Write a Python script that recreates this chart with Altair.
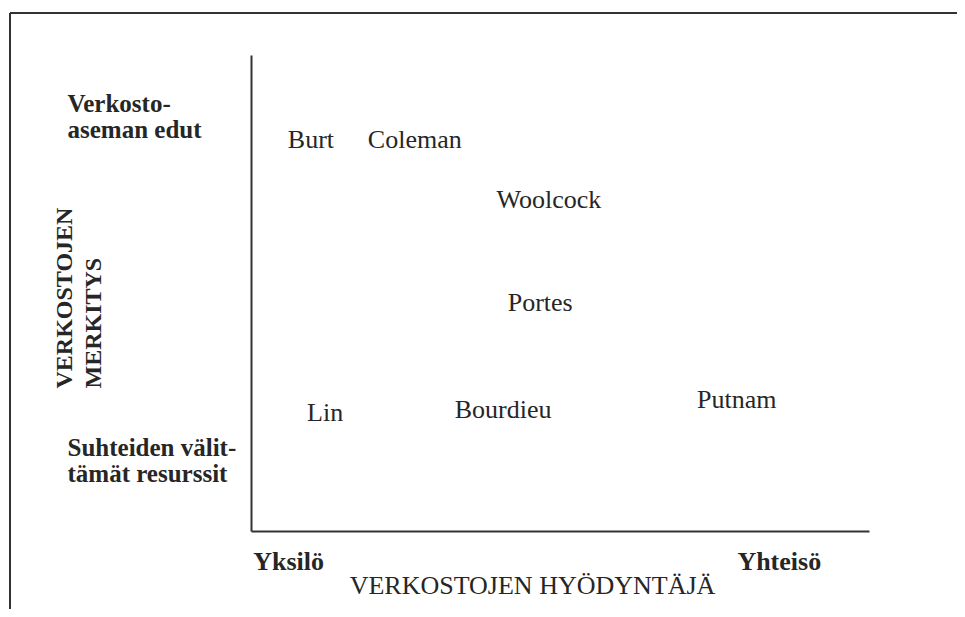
import json
import altair as alt
import pandas as pd

# ---- data ----
names = ["Burt", "Coleman", "Woolcock", "Portes", "Lin", "Bourdieu", "Putnam"]
x_vals = [9.7, 26.5, 48.2, 46.8, 12.0, 40.8, 78.6]
y_vals = [82.1, 82.1, 69.5, 47.9, 24.8, 25.4, 27.5]

y_tick_values = [17.6, 89.9]
y_tick_labels = [["Suhteiden välit-", "tämät resurssit"], ["Verkosto-", "aseman edut"]]
x_tick_values = [6.0, 85.4]
x_tick_labels = ["Yksilö", "Yhteisö"]
x_title = "VERKOSTOJEN HYÖDYNTÄJÄ"
y_title = ["VERKOSTOJEN", "MERKITYS"]

FONT = "Liberation Serif"
INK = "#262626"
LINE = "#333333"

df = pd.DataFrame({"name": names, "x": x_vals, "y": y_vals})

y_expr = "datum.value < 50 ? %s : %s" % (
    json.dumps(y_tick_labels[0], ensure_ascii=False),
    json.dumps(y_tick_labels[1], ensure_ascii=False),
)
x_expr = "datum.value < 50 ? %s : %s" % (
    json.dumps(x_tick_labels[0], ensure_ascii=False),
    json.dumps(x_tick_labels[1], ensure_ascii=False),
)

x_axis = alt.Axis(
    values=x_tick_values, labelExpr=x_expr, title=x_title,
    grid=False, ticks=False, tickSize=0, domain=True, domainColor=LINE, domainWidth=2,
    labelFont=FONT, labelFontSize=26, labelFontWeight="bold", labelColor=INK,
    labelPadding=38, labelBaseline="alphabetic", labelAlign="center",
    labelFlush=False, labelOverlap=False,
    titleFont=FONT, titleFontSize=26, titleFontWeight="normal", titleColor=INK,
    titleX=281, titleY=62, titleAlign="center", titleBaseline="alphabetic",
)
y_axis = alt.Axis(
    values=y_tick_values, labelExpr=y_expr, title=y_title,
    grid=False, ticks=False, tickSize=0, domain=True, domainColor=LINE, domainWidth=2,
    labelFont=FONT, labelFontSize=25, labelFontWeight="bold", labelColor=INK,
    labelPadding=184, labelBaseline="middle", labelAlign="left", labelLineHeight=26,
    labelFlush=False, labelOverlap=False,
    titleFont=FONT, titleFontSize=24, titleFontWeight="bold", titleColor=INK,
    titleAngle=270, titleAlign="left", titleBaseline="alphabetic", titleLineHeight=29,
    titleX=-180, titleY=333,
)

text = alt.Chart(df).mark_text(
    font=FONT, fontSize=26, color=INK, align="center", baseline="middle"
).encode(
    x=alt.X("x:Q", scale=alt.Scale(domain=[0, 100], nice=False, zero=False), axis=x_axis),
    y=alt.Y("y:Q", scale=alt.Scale(domain=[0, 100], nice=False, zero=False), axis=y_axis),
    text="name:N",
)

one = pd.DataFrame({"k": [0]})
frame_top = alt.Chart(one).mark_rule(color=LINE, strokeWidth=2).encode(
    x=alt.value(-241), x2=alt.value(706), y=alt.value(-42)
)
frame_left = alt.Chart(one).mark_rule(color=LINE, strokeWidth=2).encode(
    x=alt.value(-241), y=alt.value(-42), y2=alt.value(554)
)

chart = alt.layer(text, frame_top, frame_left).properties(
    width=618, height=476,
    autosize=alt.AutoSizeParams(type="none"),
    padding={"left": 243, "top": 47, "right": 88, "bottom": 78},
    background="white",
).configure_view(stroke=None)

chart.save("out.html", embed_options={"renderer": "svg", "actions": False})
